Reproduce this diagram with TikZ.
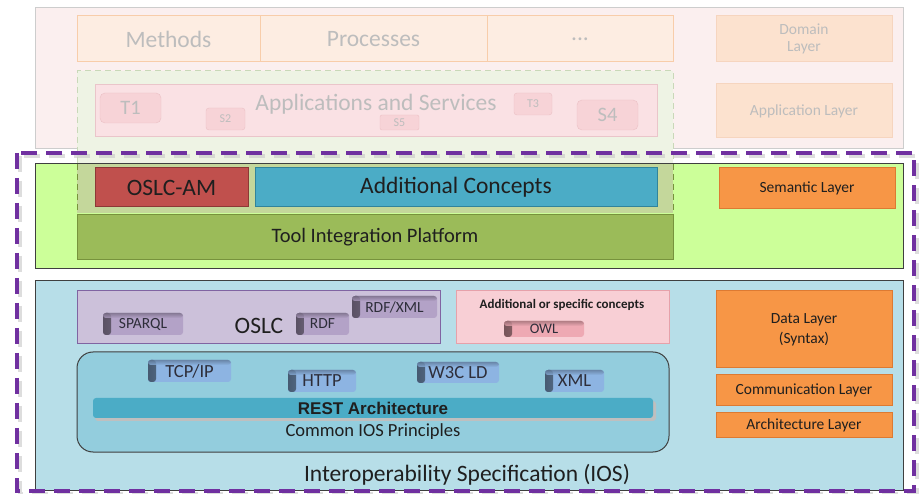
\documentclass[tikz,border=0pt]{standalone}
\usepackage{fontspec}
\setmainfont{Carlito}
\newfontfamily\arialfont{Liberation Sans}

% palette
\definecolor{topbg}{HTML}{FBEFEF}
\definecolor{topline}{HTML}{CDCDCD}
\definecolor{methfill}{HTML}{FDEDE2}
\definecolor{methline}{HTML}{F8CDAA}
\definecolor{fadetext}{HTML}{BDBDBD}
\definecolor{fadeorange}{HTML}{FCE2CF}
\definecolor{fadeorline}{HTML}{F6D5BF}
\definecolor{palegreen}{HTML}{EEF3E4}
\definecolor{palegreenline}{HTML}{C9D8B8}
\definecolor{apppink}{HTML}{FAE1E4}
\definecolor{apppinkline}{HTML}{EAC5CA}
\definecolor{chippale}{HTML}{F7D3D7}
\definecolor{chippaleline}{HTML}{EBC0C5}
\definecolor{semband}{HTML}{CCFF99}
\definecolor{olive}{HTML}{C4D79B}
\definecolor{oliveline}{HTML}{77933C}
\definecolor{amred}{HTML}{C0504D}
\definecolor{amredline}{HTML}{8C3836}
\definecolor{aqua}{HTML}{4BACC6}
\definecolor{aqualine}{HTML}{31849B}
\definecolor{tipgreen}{HTML}{9BBB59}
\definecolor{layerorange}{HTML}{F79646}
\definecolor{layerline}{HTML}{DD7A32}
\definecolor{databand}{HTML}{B7DEE8}
\definecolor{oslcfill}{HTML}{CCC1DA}
\definecolor{oslcline}{HTML}{8064A2}
\definecolor{chippurple}{HTML}{B3A2C7}
\definecolor{specpink}{HTML}{F8CFD5}
\definecolor{specline}{HTML}{E6A1AA}
\definecolor{owlpink}{HTML}{EEA9B3}
\definecolor{iosfill}{HTML}{93CDDD}
\definecolor{chipblue}{HTML}{8DB4E2}
\definecolor{frame}{HTML}{7030A0}
\definecolor{ink}{HTML}{1F1F1F}
\definecolor{chipink}{HTML}{2E2E3A}
\definecolor{bandline}{HTML}{3F3F3F}

\tikzset{
  box/.style={anchor=north west, inner sep=0pt, outer sep=0pt, align=center, text=ink},
  fadebox/.style={box, text=fadetext},
  % small label with an inner shadow along its left and top edges
  chip/.style={box, text=chipink, rounded corners=3pt, fill=#1,
    path picture={
      \fill[left color=#1!50!black, right color=#1]
        (path picture bounding box.south west) rectangle
        ([xshift=8pt]path picture bounding box.north west);
      \fill[top color=#1!55!black, bottom color=#1, opacity=0.55]
        (path picture bounding box.north west) rectangle
        ([yshift=-5pt]path picture bounding box.north east);}},
  layerbox/.style={box, fill=layerorange, draw=layerline, line width=1pt},
  fsA/.style={font=\fontsize{23.5}{26}\selectfont},
  fsB/.style={font=\fontsize{20.5}{24}\selectfont},
  fsC/.style={font=\fontsize{15.5}{19}\selectfont},
  fsD/.style={font=\fontsize{18.5}{22}\selectfont},
  fsE/.style={font=\fontsize{12}{14}\selectfont},
}

\begin{document}
\begin{tikzpicture}[x=1pt, y=-1pt]
\useasboundingbox[fill=white] (0,0) rectangle (919,494);

% ---------- faded upper part: domain and application layers ----------
\node[box, fill=topbg, draw=topline, line width=0.8pt, minimum width=868pt, minimum height=141pt] (topband) at (35,7) {};
\node[fadebox, fsA, fill=methfill, draw=methline, line width=1pt, minimum width=183pt, minimum height=46pt] (methods) at (77,16) {Methods};
\node[fadebox, fsA, fill=methfill, draw=methline, line width=1pt, minimum width=227pt, minimum height=46pt] (processes) at (260,16) {Processes};
\node[fadebox, fsA, fill=methfill, draw=methline, line width=1pt, minimum width=186pt, minimum height=46pt] (more) at (487,16) {...};
\node[fadebox, fsC, fill=fadeorange, draw=fadeorline, line width=1pt, minimum width=176pt, minimum height=46pt] (domain) at (716,16) {Domain\\[-2pt]Layer};
\node[fadebox, fsC, fill=fadeorange, draw=fadeorline, line width=1pt, minimum width=176pt, minimum height=54pt] (application) at (716,84) {Application Layer};

% dashed frame of the tool platform column
\fill[palegreen] (77,71) rectangle (673,163);
\fill[olive] (77,163) rectangle (673,213);
\draw[palegreenline, line width=1pt, dash pattern=on 6pt off 4pt] (77,163) -- (77,71) -- (673,71) -- (673,163);

\node[fadebox, fill=apppink, draw=apppinkline, line width=1pt, minimum width=562pt, minimum height=52pt] (apps) at (95,85) {};
\node[fsA, text=fadetext, inner sep=0pt] (appstext) at (376,104) {Applications and Services};
\node[fadebox, fsB, rounded corners=5pt, fill=chippale, draw=chippaleline, minimum width=61pt, minimum height=30pt] (t1) at (100,93) {T1};
\node[fadebox, fsE, rounded corners=3pt, fill=chippale, draw=chippaleline, minimum width=39pt, minimum height=22pt] (s2) at (206,108) {S2};
\node[fadebox, fsE, rounded corners=2pt, fill=chippale, draw=chippaleline, minimum width=39pt, minimum height=15pt] (s5) at (380,115) {S5};
\node[fadebox, fsE, rounded corners=3pt, fill=chippale, draw=chippaleline, minimum width=38pt, minimum height=22pt] (t3) at (514,93) {T3};
\node[fadebox, fsB, rounded corners=5pt, fill=chippale, draw=chippaleline, minimum width=61pt, minimum height=30pt] (s4) at (577,100) {S4};

% ---------- semantic layer ----------
\node[box, fill=semband, draw=bandline, line width=0.8pt, minimum width=868pt, minimum height=105pt] (semband) at (35,163) {};
\fill[olive] (77,164) rectangle (673,213);
\draw[oliveline, line width=1pt, dash pattern=on 6pt off 4pt] (77,164) -- (77,214) (673,164) -- (673,214);
\node[box, fsA, fill=amred, draw=amredline, line width=1pt, minimum width=153pt, minimum height=39pt] (oslcam) at (95,168) {OSLC-AM};
\node[box, fsA, fill=aqua, draw=aqualine, line width=1pt, minimum width=402pt, minimum height=39pt] (addconc) at (255,168) {Additional Concepts};
\node[box, fsB, fill=tipgreen, draw=oliveline, line width=1pt, minimum width=596pt, minimum height=45pt] (tip) at (77,215) {Tool Integration Platform};
\node[layerbox, fsC, minimum width=176pt, minimum height=41pt] (semantic) at (719,168) {Semantic Layer};

% ---------- data / communication / architecture layers ----------
\node[box, fill=databand, draw=bandline, line width=0.8pt, minimum width=868pt, minimum height=210pt] (ios) at (35,280) {};

\node[box, fill=oslcfill, draw=oslcline, line width=1pt, minimum width=363pt, minimum height=53pt] (oslc) at (77,291) {};
\node[fsA, text=ink, inner sep=0pt] (oslctext) at (259,326) {OSLC};
\node[chip=chippurple, fsC, minimum width=80pt, minimum height=22pt] (sparql) at (103,313) {SPARQL};
\node[chip=chippurple, fsC, minimum width=53pt, minimum height=22pt] (rdf) at (296,313) {RDF};
\node[chip=chippurple, fsC, minimum width=85pt, minimum height=22pt] (rdfxml) at (352,296) {RDF/XML};

\node[box, fill=specpink, draw=specline, line width=1pt, minimum width=213pt, minimum height=53pt] (spec) at (456,291) {};
\node[font=\fontsize{13}{15}\selectfont\bfseries, text=ink, inner sep=0pt] (spectext) at (562,305) {Additional or specific concepts};
\node[chip=owlpink, font=\fontsize{14.5}{17}\selectfont, minimum width=80pt, minimum height=16pt] (owl) at (504,321) {OWL};

\node[box, fill=iosfill, draw=bandline, line width=1pt, rounded corners=16pt, minimum width=592pt, minimum height=100pt] (principles) at (77,352) {};
\node[chip=chipblue, fsD, minimum width=83pt, minimum height=22pt] (tcpip) at (148,360) {TCP/IP};
\node[chip=chipblue, fsD, minimum width=68pt, minimum height=22pt] (http) at (288,370) {HTTP};
\node[chip=chipblue, fsD, minimum width=82pt, minimum height=21pt] (w3cld) at (417,362) {W3C LD};
\node[chip=chipblue, fsD, minimum width=59pt, minimum height=22pt] (xml) at (545,370) {XML};
\fill[black!25, rounded corners=3pt] (95,401) rectangle (656,421);
\node[box, fill=aqua, rounded corners=3pt, minimum width=560pt, minimum height=20pt,
      font=\arialfont\bfseries\fontsize{17}{20}\selectfont] (rest) at (93,398) {REST Architecture};
\node[fsD, text=ink, inner sep=0pt] (principlestext) at (373,432) {Common IOS Principles};
\node[fsA, text=ink, inner sep=0pt] (iostext) at (467,475) {Interoperability Specification (IOS)};

\node[layerbox, fsC, minimum width=176pt, minimum height=77pt] (data) at (716,291) {Data Layer\\[1pt](Syntax)};
\node[layerbox, fsC, minimum width=176pt, minimum height=31pt] (comm) at (716,375) {Communication Layer};
\node[layerbox, fsC, minimum width=176pt, minimum height=24pt] (arch) at (716,413) {Architecture Layer};

% ---------- dashed frame around the specified layers ----------
\coordinate (frameNW) at (17,153);
\coordinate (frameSE) at (914,491);
\draw[black!22, line width=4pt, dash pattern=on 16pt off 9pt, opacity=0.6]
  ([shift={(3,3)}]frameNW) rectangle ([shift={(3,3)}]frameSE);
\draw[frame, line width=4pt, dash pattern=on 16pt off 9pt] (frameNW) rectangle (frameSE);
\end{tikzpicture}
\end{document}
